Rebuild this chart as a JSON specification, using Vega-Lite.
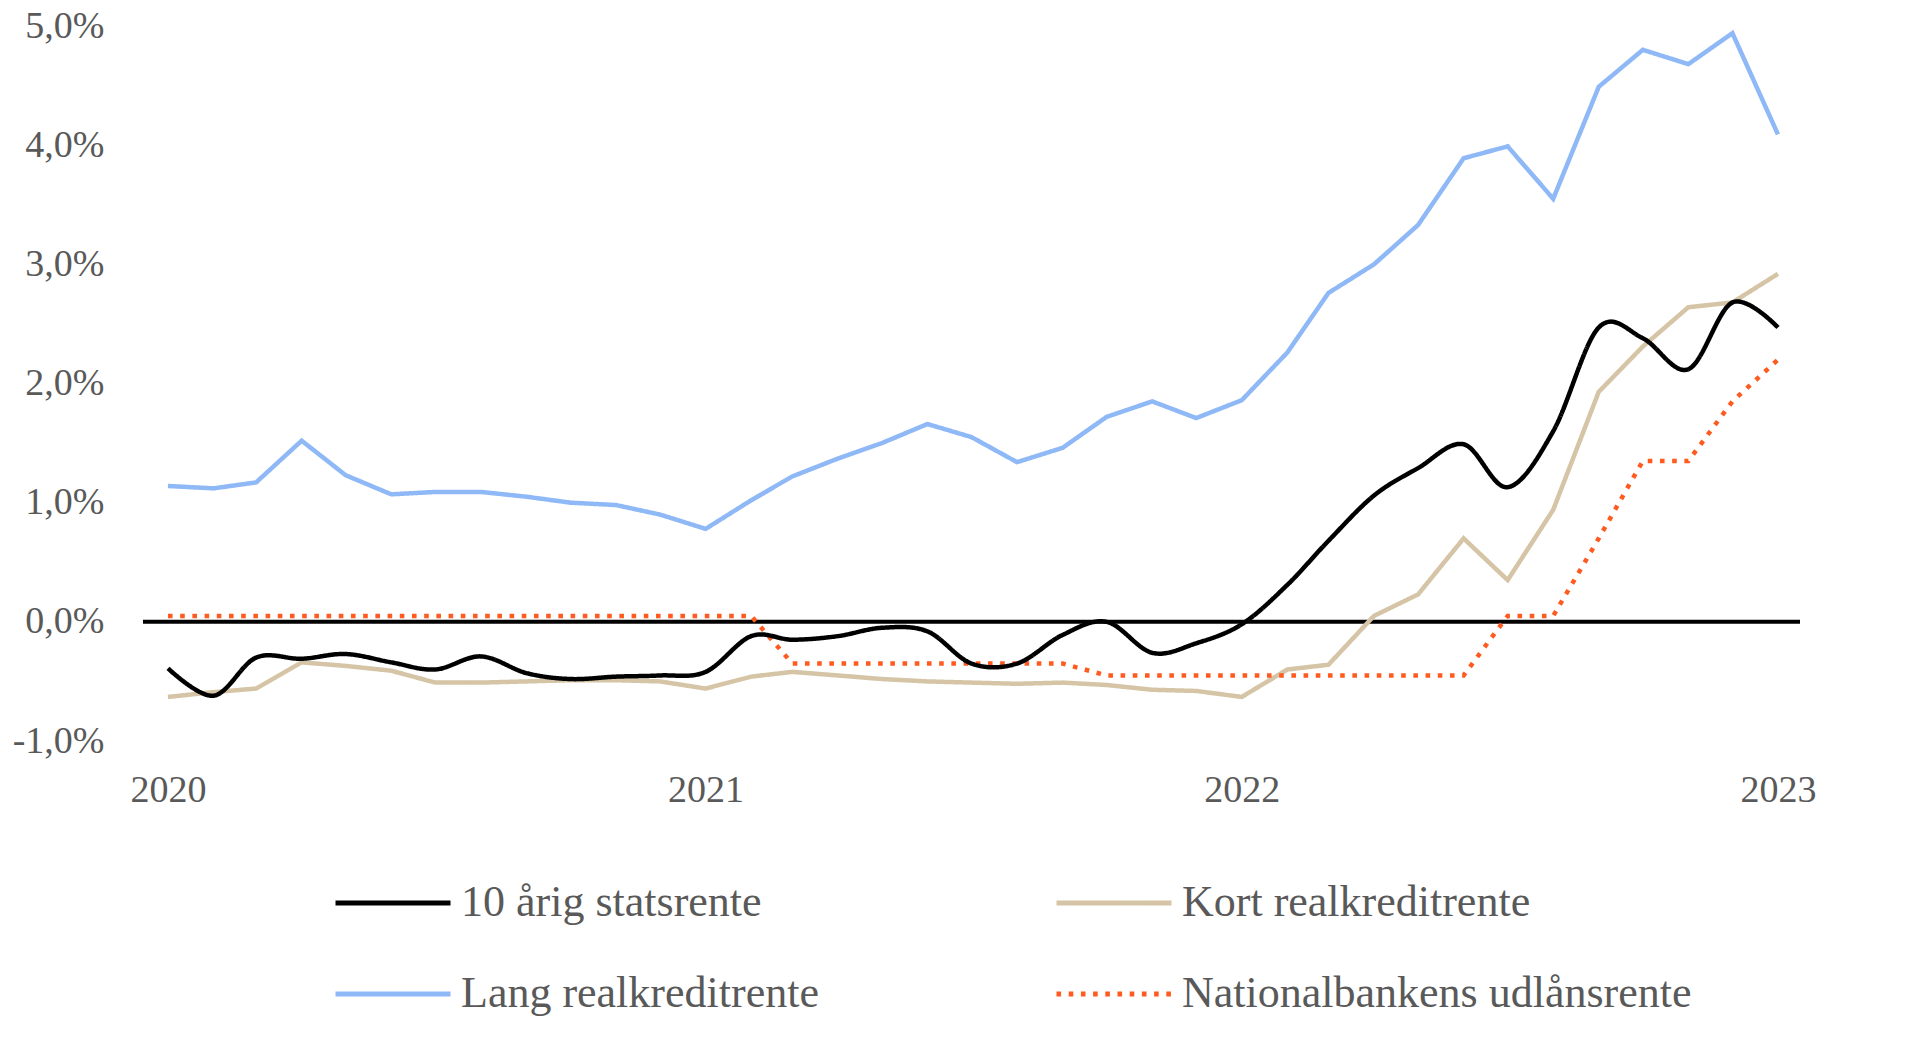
{
  "$schema": "https://vega.github.io/schema/vega-lite/v6.json",
  "width": 1657,
  "height": 715,
  "autosize": {"type": "none"},
  "padding": {"left": 143, "top": 26, "right": 120, "bottom": 318},
  "background": "white",
  "config": {"view": {"stroke": null}, "font": "Liberation Serif"},
  "data": {
    "values": [
      {"date": "2020-01-01", "10 årig statsrente": -0.39, "Kort realkreditrente": -0.63, "Lang realkreditrente": 1.14, "Nationalbankens udlånsrente": 0.05},
      {"date": "2020-02-01", "10 årig statsrente": -0.62, "Kort realkreditrente": -0.59, "Lang realkreditrente": 1.12, "Nationalbankens udlånsrente": 0.05},
      {"date": "2020-03-01", "10 årig statsrente": -0.30, "Kort realkreditrente": -0.56, "Lang realkreditrente": 1.17, "Nationalbankens udlånsrente": 0.05},
      {"date": "2020-04-01", "10 årig statsrente": -0.31, "Kort realkreditrente": -0.34, "Lang realkreditrente": 1.52, "Nationalbankens udlånsrente": 0.05},
      {"date": "2020-05-01", "10 årig statsrente": -0.27, "Kort realkreditrente": -0.37, "Lang realkreditrente": 1.23, "Nationalbankens udlånsrente": 0.05},
      {"date": "2020-06-01", "10 årig statsrente": -0.34, "Kort realkreditrente": -0.41, "Lang realkreditrente": 1.07, "Nationalbankens udlånsrente": 0.05},
      {"date": "2020-07-01", "10 årig statsrente": -0.40, "Kort realkreditrente": -0.51, "Lang realkreditrente": 1.09, "Nationalbankens udlånsrente": 0.05},
      {"date": "2020-08-01", "10 årig statsrente": -0.29, "Kort realkreditrente": -0.51, "Lang realkreditrente": 1.09, "Nationalbankens udlånsrente": 0.05},
      {"date": "2020-09-01", "10 årig statsrente": -0.43, "Kort realkreditrente": -0.50, "Lang realkreditrente": 1.05, "Nationalbankens udlånsrente": 0.05},
      {"date": "2020-10-01", "10 årig statsrente": -0.48, "Kort realkreditrente": -0.49, "Lang realkreditrente": 1.00, "Nationalbankens udlånsrente": 0.05},
      {"date": "2020-11-01", "10 årig statsrente": -0.46, "Kort realkreditrente": -0.49, "Lang realkreditrente": 0.98, "Nationalbankens udlånsrente": 0.05},
      {"date": "2020-12-01", "10 årig statsrente": -0.45, "Kort realkreditrente": -0.50, "Lang realkreditrente": 0.90, "Nationalbankens udlånsrente": 0.05},
      {"date": "2021-01-01", "10 årig statsrente": -0.42, "Kort realkreditrente": -0.56, "Lang realkreditrente": 0.78, "Nationalbankens udlånsrente": 0.05},
      {"date": "2021-02-01", "10 årig statsrente": -0.12, "Kort realkreditrente": -0.46, "Lang realkreditrente": 1.02, "Nationalbankens udlånsrente": 0.05},
      {"date": "2021-03-01", "10 årig statsrente": -0.15, "Kort realkreditrente": -0.42, "Lang realkreditrente": 1.22, "Nationalbankens udlånsrente": -0.35},
      {"date": "2021-04-01", "10 årig statsrente": -0.12, "Kort realkreditrente": -0.45, "Lang realkreditrente": 1.37, "Nationalbankens udlånsrente": -0.35},
      {"date": "2021-05-01", "10 årig statsrente": -0.05, "Kort realkreditrente": -0.48, "Lang realkreditrente": 1.50, "Nationalbankens udlånsrente": -0.35},
      {"date": "2021-06-01", "10 årig statsrente": -0.08, "Kort realkreditrente": -0.50, "Lang realkreditrente": 1.66, "Nationalbankens udlånsrente": -0.35},
      {"date": "2021-07-01", "10 årig statsrente": -0.35, "Kort realkreditrente": -0.51, "Lang realkreditrente": 1.55, "Nationalbankens udlånsrente": -0.35},
      {"date": "2021-08-01", "10 årig statsrente": -0.35, "Kort realkreditrente": -0.52, "Lang realkreditrente": 1.34, "Nationalbankens udlånsrente": -0.35},
      {"date": "2021-09-01", "10 årig statsrente": -0.11, "Kort realkreditrente": -0.51, "Lang realkreditrente": 1.46, "Nationalbankens udlånsrente": -0.35},
      {"date": "2021-10-01", "10 årig statsrente": 0.00, "Kort realkreditrente": -0.53, "Lang realkreditrente": 1.72, "Nationalbankens udlånsrente": -0.45},
      {"date": "2021-11-01", "10 årig statsrente": -0.26, "Kort realkreditrente": -0.57, "Lang realkreditrente": 1.85, "Nationalbankens udlånsrente": -0.45},
      {"date": "2021-12-01", "10 årig statsrente": -0.18, "Kort realkreditrente": -0.58, "Lang realkreditrente": 1.71, "Nationalbankens udlånsrente": -0.45},
      {"date": "2022-01-01", "10 årig statsrente": -0.02, "Kort realkreditrente": -0.63, "Lang realkreditrente": 1.86, "Nationalbankens udlånsrente": -0.45},
      {"date": "2022-02-01", "10 årig statsrente": 0.31, "Kort realkreditrente": -0.40, "Lang realkreditrente": 2.26, "Nationalbankens udlånsrente": -0.45},
      {"date": "2022-03-01", "10 årig statsrente": 0.68, "Kort realkreditrente": -0.36, "Lang realkreditrente": 2.76, "Nationalbankens udlånsrente": -0.45},
      {"date": "2022-04-01", "10 årig statsrente": 1.06, "Kort realkreditrente": 0.05, "Lang realkreditrente": 3.00, "Nationalbankens udlånsrente": -0.45},
      {"date": "2022-05-01", "10 årig statsrente": 1.29, "Kort realkreditrente": 0.23, "Lang realkreditrente": 3.33, "Nationalbankens udlånsrente": -0.45},
      {"date": "2022-06-01", "10 årig statsrente": 1.49, "Kort realkreditrente": 0.70, "Lang realkreditrente": 3.89, "Nationalbankens udlånsrente": -0.45},
      {"date": "2022-07-01", "10 årig statsrente": 1.13, "Kort realkreditrente": 0.35, "Lang realkreditrente": 3.99, "Nationalbankens udlånsrente": 0.05},
      {"date": "2022-08-01", "10 årig statsrente": 1.60, "Kort realkreditrente": 0.94, "Lang realkreditrente": 3.55, "Nationalbankens udlånsrente": 0.05},
      {"date": "2022-09-01", "10 årig statsrente": 2.47, "Kort realkreditrente": 1.93, "Lang realkreditrente": 4.49, "Nationalbankens udlånsrente": 0.70},
      {"date": "2022-10-01", "10 årig statsrente": 2.38, "Kort realkreditrente": 2.31, "Lang realkreditrente": 4.80, "Nationalbankens udlånsrente": 1.35},
      {"date": "2022-11-01", "10 årig statsrente": 2.12, "Kort realkreditrente": 2.64, "Lang realkreditrente": 4.68, "Nationalbankens udlånsrente": 1.35},
      {"date": "2022-12-01", "10 årig statsrente": 2.68, "Kort realkreditrente": 2.68, "Lang realkreditrente": 4.94, "Nationalbankens udlånsrente": 1.85},
      {"date": "2023-01-01", "10 årig statsrente": 2.47, "Kort realkreditrente": 2.92, "Lang realkreditrente": 4.09, "Nationalbankens udlånsrente": 2.20}
    ]
  },
  "transform": [
    {"fold": ["10 årig statsrente", "Kort realkreditrente", "Lang realkreditrente", "Nationalbankens udlånsrente"], "as": ["serie", "rente"]}
  ],
  "encoding": {
    "x": {
      "field": "date",
      "type": "temporal",
      "scale": {"type": "utc", "domain": [{"year": 2019, "month": 12, "date": 15, "utc": true}, {"year": 2023, "month": 1, "date": 16, "utc": true}]},
      "axis": {
        "title": null,
        "values": [{"year": 2020, "month": 1, "date": 1, "utc": true}, {"year": 2021, "month": 1, "date": 1, "utc": true}, {"year": 2022, "month": 1, "date": 1, "utc": true}, {"year": 2023, "month": 1, "date": 1, "utc": true}],
        "format": "%Y",
        "domain": false,
        "ticks": false,
        "grid": false,
        "labelFont": "Liberation Serif",
        "labelFontSize": 38,
        "labelColor": "#595959",
        "labelPadding": 30,
        "labelFlush": false
      }
    },
    "y": {
      "field": "rente",
      "type": "quantitative",
      "scale": {"domain": [-1, 5], "nice": false, "zero": false},
      "axis": {
        "title": null,
        "values": [-1, 0, 1, 2, 3, 4, 5],
        "labelExpr": "(datum.value < 0 ? '-' : '') + abs(datum.value) + ',0%'",
        "domain": false,
        "ticks": false,
        "grid": false,
        "labelFont": "Liberation Serif",
        "labelFontSize": 38,
        "labelColor": "#595959",
        "labelPadding": 39
      }
    },
    "color": {
      "field": "serie",
      "type": "nominal",
      "scale": {
        "domain": ["10 årig statsrente", "Kort realkreditrente", "Lang realkreditrente", "Nationalbankens udlånsrente"],
        "range": ["#000000", "#D5C4A5", "#8FB8F6", "#FF5A1F"]
      },
      "legend": {
        "title": null,
        "orient": "none",
        "legendX": 190,
        "legendY": 817,
        "direction": "horizontal",
        "columns": 2,
        "padding": 0,
        "symbolType": "stroke",
        "symbolSize": 13225,
        "symbolStrokeWidth": 5,
        "labelFont": "Liberation Serif",
        "labelFontSize": 44,
        "labelColor": "#595959",
        "labelOffset": 8,
        "labelLimit": 1000,
        "rowPadding": 9,
        "columnPadding": 227
      }
    },
    "strokeDash": {
      "field": "serie",
      "type": "nominal",
      "scale": {
        "domain": ["10 årig statsrente", "Kort realkreditrente", "Lang realkreditrente", "Nationalbankens udlånsrente"],
        "range": [[1, 0], [1, 0], [1, 0], [4.6, 7.6]]
      }
    }
  },
  "layer": [
    {
      "data": {"values": [{"nul": 0}]},
      "mark": {"type": "rule", "color": "#000000", "strokeWidth": 4},
      "encoding": {
        "x": null,
        "color": null,
        "strokeDash": null,
        "y": {"field": "nul", "type": "quantitative"}
      }
    },
    {
      "transform": [{"filter": "datum.serie !== '10 årig statsrente'"}],
      "mark": {"type": "line", "strokeWidth": 4.5, "strokeCap": "butt"}
    },
    {
      "transform": [{"filter": "datum.serie === '10 årig statsrente'"}],
      "mark": {"type": "line", "strokeWidth": 4.5, "interpolate": "cardinal", "tension": 0}
    }
  ]
}
